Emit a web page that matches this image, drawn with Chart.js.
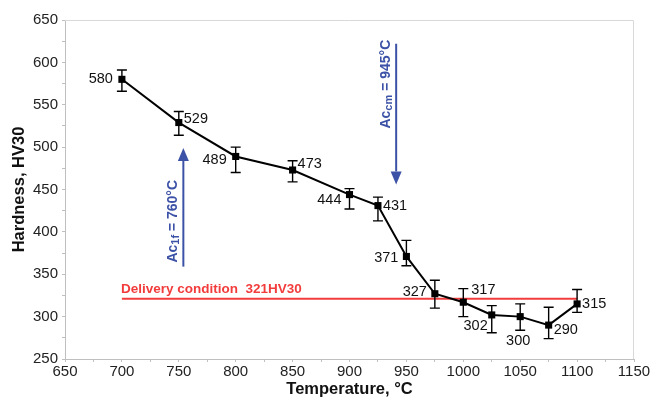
<!DOCTYPE html>
<html>
<head>
<meta charset="utf-8">
<script src="https://cdn.jsdelivr.net/npm/chart.js@4/dist/chart.umd.min.js"></script>
<style>
html,body{margin:0;padding:0;background:#fff;}
canvas{display:block;}
</style>
</head>
<body>
<canvas id="c" width="662" height="399"></canvas>
<script>
// ---- data ----
const temperatures = [700, 750, 800, 850, 900, 925, 950, 975, 1000, 1025, 1050, 1075, 1100];
const hardness     = [580, 529, 489, 473, 444, 431, 371, 327, 317, 302, 300, 290, 315];
const errPlus      = [11, 13, 11, 11, 7, 10, 19, 16, 16, 11, 15, 21, 17];
const errMinus     = [14, 15, 19, 14, 17, 18, 11, 17, 17, 21, 16, 16, 10];
const deliveryX    = [700, 1100];
const deliveryY    = [321, 321];
const deliveryText = 'Delivery condition  321HV30';
const arrowX       = [754, 941];
const arrowFrom    = [359, 622];
const arrowTo      = [499, 456];
const arrowMain    = ['Ac', 'Ac'];
const arrowSub     = ['1f', 'cm'];
const arrowRest    = [' = 760°C', ' = 945°C'];
const xTicks = {min: 650, max: 1150, step: 25, labelStep: 50};
const yTicks = {min: 250, max: 650, step: 25, labelStep: 50};

// label placement (style): [align, dx, dy]
const labelPlacement = [
  ['right', -9, 0], ['left', 5, -4], ['right', -9, 4], ['left', 5, -6],
  ['right', -8, 5], ['left', 5, 0], ['right', -8, 2], ['right', -8, -2],
  ['left', 8, -12], ['right', -4, 11], ['center', -2, 24], ['left', 5, 5], ['left', 5, 0]
];

const FONT = "Arial, 'Liberation Sans', sans-serif";
const BLUE = '#3c52a6';
const RED = '#f23c3c';

const extras = {
  id: 'extras',
  beforeDatasetsDraw(chart) {
    const {ctx, chartArea: a} = chart;
    ctx.save();
    ctx.strokeStyle = '#d9d9d9';
    ctx.lineWidth = 1;
    ctx.beginPath();
    ctx.moveTo(a.left, a.top + 0.5);
    ctx.lineTo(a.right - 0.5, a.top + 0.5);
    ctx.lineTo(a.right - 0.5, a.bottom);
    ctx.stroke();
    ctx.restore();
  },
  afterDatasetsDraw(chart) {
    const {ctx} = chart;
    const xs = chart.scales.x, ys = chart.scales.y;
    ctx.save();
    // error bars
    ctx.strokeStyle = '#000';
    ctx.lineWidth = 1.4;
    temperatures.forEach((t, i) => {
      const x = xs.getPixelForValue(t);
      const yt = ys.getPixelForValue(hardness[i] + errPlus[i]);
      const yb = ys.getPixelForValue(hardness[i] - errMinus[i]);
      ctx.beginPath();
      ctx.moveTo(x, yt); ctx.lineTo(x, yb);
      ctx.moveTo(x - 5, yt); ctx.lineTo(x + 5, yt);
      ctx.moveTo(x - 5, yb); ctx.lineTo(x + 5, yb);
      ctx.stroke();
    });
    // value labels
    ctx.fillStyle = '#111';
    ctx.font = '14.5px ' + FONT;
    ctx.textBaseline = 'middle';
    temperatures.forEach((t, i) => {
      const [al, dx, dy] = labelPlacement[i];
      ctx.textAlign = al;
      ctx.fillText(String(hardness[i]), xs.getPixelForValue(t) + dx, ys.getPixelForValue(hardness[i]) + dy);
    });
    // delivery text
    ctx.fillStyle = RED;
    ctx.font = 'bold 13.5px ' + FONT;
    ctx.textAlign = 'left';
    ctx.textBaseline = 'alphabetic';
    ctx.fillText(deliveryText, xs.getPixelForValue(deliveryX[0]) - 1, ys.getPixelForValue(deliveryY[0]) - 6);
    // arrows
    arrowX.forEach((ax, i) => {
      const x = xs.getPixelForValue(ax);
      const y0 = ys.getPixelForValue(arrowFrom[i]);
      const y1 = ys.getPixelForValue(arrowTo[i]);
      const dir = y1 < y0 ? -1 : 1;
      const headL = 13, headW = 5.5;
      ctx.strokeStyle = BLUE;
      ctx.fillStyle = BLUE;
      ctx.lineWidth = 2;
      ctx.beginPath();
      ctx.moveTo(x, y0);
      ctx.lineTo(x, y1 - dir * headL);
      ctx.stroke();
      ctx.beginPath();
      ctx.moveTo(x, y1);
      ctx.lineTo(x - headW, y1 - dir * headL);
      ctx.lineTo(x + headW, y1 - dir * headL);
      ctx.closePath();
      ctx.fill();
      // rotated label
      const mainF = 'bold 14px ' + FONT, subF = 'bold 11px ' + FONT;
      ctx.font = mainF;
      const w1 = ctx.measureText(arrowMain[i]).width;
      const w3 = ctx.measureText(arrowRest[i]).width;
      ctx.font = subF;
      const w2 = ctx.measureText(arrowSub[i]).width;
      const total = w1 + w2 + w3;
      const tx = x - 10.5;
      let startY;
      if (dir < 0) startY = Math.max(y0, y1) - 4;
      else startY = Math.min(y0, y1) - 4 + total;
      ctx.save();
      ctx.translate(tx, startY);
      ctx.rotate(-Math.PI / 2);
      ctx.textAlign = 'left';
      ctx.textBaseline = 'middle';
      ctx.font = mainF;
      ctx.fillText(arrowMain[i], 0, 0);
      ctx.font = subF;
      ctx.fillText(arrowSub[i], w1, 3.5);
      ctx.font = mainF;
      ctx.fillText(arrowRest[i], w1 + w2, 0);
      ctx.restore();
    });
    ctx.restore();
  }
};

const mainData = temperatures.map((t, i) => ({x: t, y: hardness[i]}));
const deliveryData = deliveryX.map((t, i) => ({x: t, y: deliveryY[i]}));

new Chart(document.getElementById('c'), {
  type: 'line',
  data: {
    datasets: [
      {
        data: mainData,
        borderColor: '#000',
        borderWidth: 2,
        pointStyle: 'rect',
        pointRadius: 5,
        pointBackgroundColor: '#000',
        pointBorderColor: '#000',
        pointBorderWidth: 0,
        tension: 0,
        fill: false
      },
      {
        data: deliveryData,
        borderColor: RED,
        borderWidth: 2,
        pointRadius: 0,
        tension: 0,
        fill: false
      }
    ]
  },
  options: {
    responsive: false,
    animation: false,
    events: [],
    layout: {padding: {top: 20, right: 28, left: 0, bottom: 0}},
    plugins: {legend: {display: false}, tooltip: {enabled: false}},
    scales: {
      x: {
        type: 'linear',
        min: xTicks.min, max: xTicks.max,
        afterFit(s) { s.height = 40; },
        afterBuildTicks(s) {
          const t = [];
          for (let v = xTicks.min; v <= xTicks.max; v += xTicks.step) t.push({value: v});
          s.ticks = t;
        },
        ticks: {
          autoSkip: false, maxRotation: 0,
          color: '#222', font: {size: 15, family: FONT}, padding: 1,
          callback: v => (v % xTicks.labelStep === 0 ? String(v) : '')
        },
        grid: {display: true, drawOnChartArea: false, drawTicks: true, tickLength: 3, color: '#bfbfbf'},
        border: {display: true, color: '#bfbfbf', width: 1},
        title: {display: true, text: 'Temperature, °C', color: '#111',
                font: {size: 16.5, weight: 'bold', family: FONT}, padding: {top: 0, bottom: 0}}
      },
      y: {
        type: 'linear',
        min: yTicks.min, max: yTicks.max,
        afterFit(s) { s.width = 65; },
        afterBuildTicks(s) {
          const t = [];
          for (let v = yTicks.min; v <= yTicks.max; v += yTicks.step) t.push({value: v});
          s.ticks = t;
        },
        ticks: {
          autoSkip: false,
          color: '#222', font: {size: 15, family: FONT}, padding: 4,
          callback: v => (v % yTicks.labelStep === 0 ? String(v) : '')
        },
        grid: {display: true, drawOnChartArea: false, drawTicks: true, tickLength: 3, color: '#bfbfbf'},
        border: {display: true, color: '#bfbfbf', width: 1},
        title: {display: true, text: 'Hardness, HV30', color: '#111',
                font: {size: 16.5, weight: 'bold', family: FONT}, padding: {top: 10, bottom: 0}}
      }
    }
  },
  plugins: [extras]
});
</script>
</body>
</html>
